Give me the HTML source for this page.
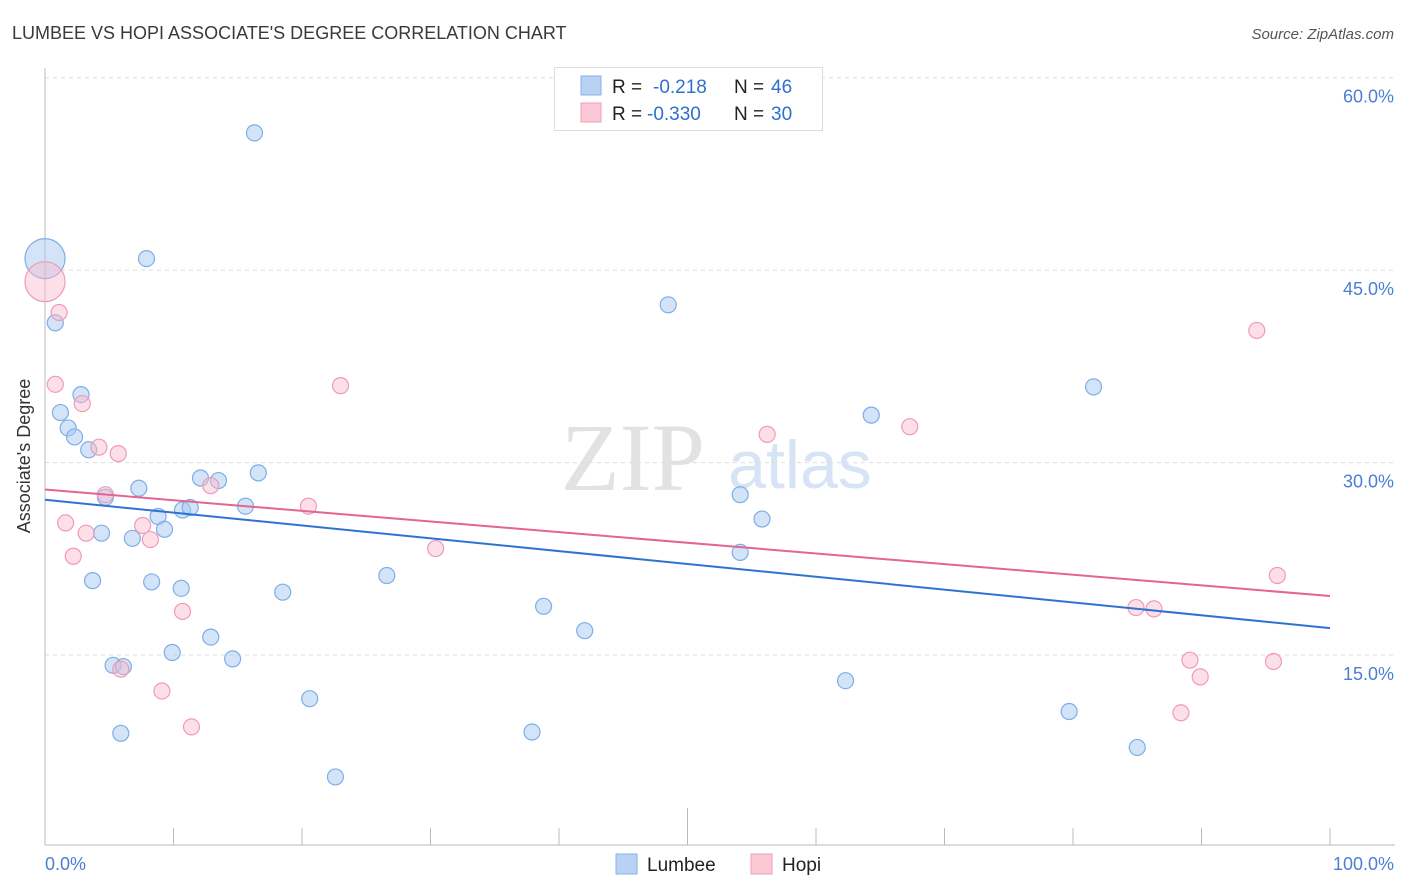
<!DOCTYPE html>
<html><head><meta charset="utf-8"><style>
body{margin:0;background:#fff;font-family:"Liberation Sans",sans-serif;}
#wrap{position:relative;width:1406px;height:892px;overflow:hidden;}
</style></head><body>
<div id="wrap">
<svg id="svg" width="1406" height="892" xmlns="http://www.w3.org/2000/svg">
<text x="12" y="39" font-size="18" fill="#3a3a3a">LUMBEE VS HOPI ASSOCIATE'S DEGREE CORRELATION CHART</text>
<text x="1394" y="39" font-size="15" fill="#555" font-style="italic" text-anchor="end">Source: ZipAtlas.com</text>
<text x="633" y="490" font-size="96" fill="#e2e2e2" font-family="Liberation Serif,serif" text-anchor="middle">ZIP</text>
<text x="800" y="488" font-size="68" fill="#d6e4f5" text-anchor="middle">atlas</text>
<g id="grid"></g><g id="axes"></g><g id="pts"></g><g id="lines"></g>
<text x="30" y="456" font-size="18" fill="#333" text-anchor="middle" transform="rotate(-90 30 456)">Associate's Degree</text>
<text x="45" y="870" font-size="18" fill="#4a7fd4">0.0%</text>
<text x="1394" y="870" font-size="18" fill="#4a7fd4" text-anchor="end">100.0%</text>
<g>
<rect x="554.5" y="67.5" width="268" height="63" fill="#fff" stroke="#ddd"/>
<rect x="581" y="76" width="20" height="19" fill="#b8d2f4" stroke="#86b2ea"/>
<rect x="581" y="103" width="20" height="19" fill="#fbc8d6" stroke="#f0a0ba"/>
<text x="612" y="93" font-size="19" fill="#222">R = </text><text x="653" y="93" font-size="19" fill="#2e6fcf">-0.218</text>
<text x="734" y="93" font-size="19" fill="#222">N = </text><text x="771" y="93" font-size="19" fill="#2e6fcf">46</text>
<text x="612" y="120" font-size="19" fill="#222">R = </text><text x="647" y="120" font-size="19" fill="#2e6fcf">-0.330</text>
<text x="734" y="120" font-size="19" fill="#222">N = </text><text x="771" y="120" font-size="19" fill="#2e6fcf">30</text>
</g>
<g>
<rect x="616" y="854" width="21" height="20" fill="#b8d2f4" stroke="#86b2ea"/>
<text x="647" y="871" font-size="19" fill="#222">Lumbee</text>
<rect x="751" y="854" width="21" height="20" fill="#fbc8d6" stroke="#f0a0ba"/>
<text x="782" y="871" font-size="19" fill="#222">Hopi</text>
</g>
</svg>
</div>
<script>
const yTicks=[15,30,45,60];
const yTickLabels=["15.0%","30.0%","45.0%","60.0%"];
const xTicks=[0,10,20,30,40,50,60,70,80,90,100];
const lumbeeX=[0,7.9,16.3,0.8,2.8,1.2,1.8,2.3,3.4,7.3,4.7,4.4,6.8,8.8,9.3,10.7,11.3,12.1,13.5,15.6,16.6,3.7,8.3,10.6,18.5,12.9,9.9,14.6,5.3,6.1,5.9,20.6,22.6,26.6,38.8,42.0,37.9,48.5,54.1,55.8,54.1,64.3,62.3,81.6,79.7,85.0];
const lumbeeY=[45.9,45.9,55.7,40.9,35.3,33.9,32.7,32.0,31.0,28.0,27.3,24.5,24.1,25.8,24.8,26.3,26.5,28.8,28.6,26.6,29.2,20.8,20.7,20.2,19.9,16.4,15.2,14.7,14.2,14.1,8.9,11.6,5.5,21.2,18.8,16.9,9.0,42.3,27.5,25.6,23.0,33.7,13.0,35.9,10.6,7.8];
const hopiX=[0,1.1,0.8,2.9,4.2,5.7,4.7,1.6,3.2,2.2,7.6,8.2,12.9,10.7,9.1,11.4,5.9,20.5,23.0,30.4,56.2,67.3,94.3,95.9,84.9,86.3,89.1,95.6,89.9,88.4];
const hopiY=[44.1,41.7,36.1,34.6,31.2,30.7,27.5,25.3,24.5,22.7,25.1,24.0,28.2,18.4,12.2,9.4,13.9,26.6,36.0,23.3,32.2,32.8,40.3,21.2,18.7,18.6,14.6,14.5,13.3,10.5];
const lumbeeTrend=[27.1,17.1];
const hopiTrend=[27.9,19.6];
const NS="http://www.w3.org/2000/svg";
function sx(v){return 45+v*12.85;}
function sy(v){return 847.5-v*12.83;}
function mk(tag,at,parent){const e=document.createElementNS(NS,tag);for(const k in at)e.setAttribute(k,at[k]);document.getElementById(parent).appendChild(e);return e;}
yTicks.forEach((t,i)=>{
 const l=mk('line',{x1:45,x2:1395,y1:sy(t),y2:sy(t),stroke:'#ddd','stroke-dasharray':'4 4'},'grid');
 
 
 const tx=mk('text',{x:1394,y:sy(t)+25,'font-size':18,fill:'#4a7fd4','text-anchor':'end'},'grid');
 tx.textContent=yTickLabels[i];
 
 
});
let a=mk('line',{x1:45,x2:45,y1:68,y2:845,stroke:'#bbb'},'axes');


a=mk('line',{x1:45,x2:1395,y1:845,y2:845,stroke:'#bbb'},'axes');


xTicks.forEach(t=>{
 const l=mk('line',{x1:sx(t),x2:sx(t),y1:t==50?808:828,y2:845,stroke:'#bbb'},'axes');
 
 
});
function dots(X,Y,fill,stroke,name){
 X.forEach((x,i)=>{
  const r=(x===0&&i===0)?20:8;
  const c=mk('circle',{cx:sx(x),cy:sy(Y[i]),r:r,fill:fill,stroke:stroke,'stroke-width':1.2},'pts');
  
  
 });
}
dots(lumbeeX,lumbeeY,'rgba(168,200,242,0.5)','#7eaee8','lumbee-point');
dots(hopiX,hopiY,'rgba(250,185,205,0.45)','#f09ab8','hopi-point');
let tl=mk('line',{x1:sx(0),y1:sy(lumbeeTrend[0]),x2:sx(100),y2:sy(lumbeeTrend[1]),stroke:'#2e72d2','stroke-width':2},'lines');


tl=mk('line',{x1:sx(0),y1:sy(hopiTrend[0]),x2:sx(100),y2:sy(hopiTrend[1]),stroke:'#e36591','stroke-width':2},'lines');


</script>
</body></html>
